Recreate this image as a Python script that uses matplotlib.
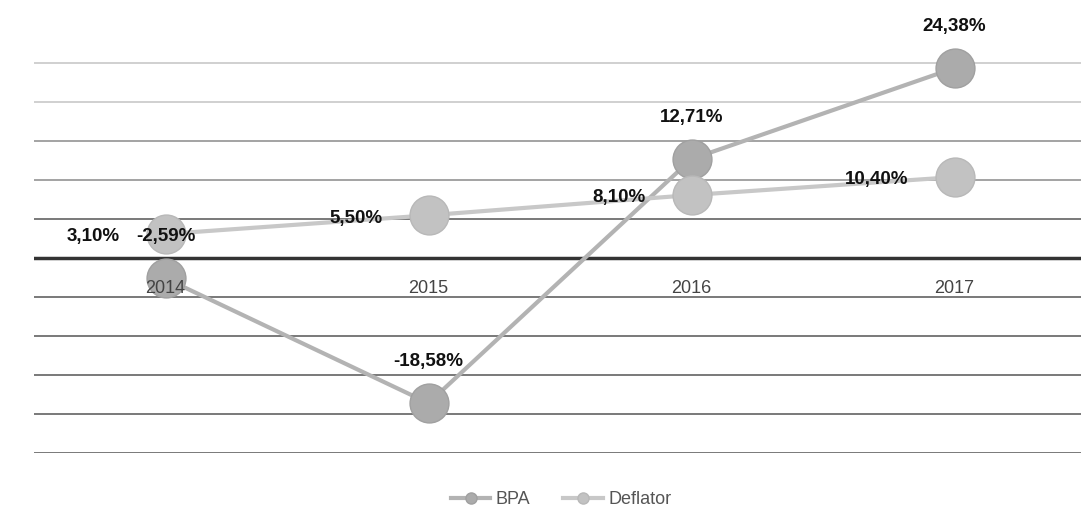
import matplotlib.pyplot as plt
import numpy as np
from matplotlib.lines import Line2D

plt.rcParams['font.family'] = ['Liberation Sans', 'DejaVu Sans']

years = ["2014", "2015", "2016", "2017"]
bpa = [-2.59, -18.58, 12.71, 24.38]
deflator = [3.10, 5.50, 8.10, 10.40]

def pct(v):
    return ("%.2f%%" % v).replace(".", ",")

fig = plt.figure(figsize=(10.81, 5.15), dpi=100)
ax = fig.add_axes([34 / 1081, 0.12, 1052 / 1081, 0.833])

x = np.arange(len(years))

# gridlines, the upper ones came out faint in the scan
for v in np.arange(-25, 26, 5):
    if v == 0:
        continue
    col = '#c4c4c4' if v >= 20 else ('#8a8a8a' if v >= 10 else '#555555')
    ax.axhline(v, color=col, lw=1.1, zorder=1)
ax.axhline(0, color='#333333', lw=2.5, zorder=1)

ax.plot(x, bpa, color='#b3b3b3', lw=3, marker='o', ms=28,
        mfc='#ababab', mec='#a0a0a0', zorder=3)
ax.plot(x, deflator, color='#c8c8c8', lw=3, marker='o', ms=28,
        mfc='#c2c2c2', mec='#b8b8b8', zorder=3)

for i, v in enumerate(bpa):
    ax.annotate(pct(v), (x[i], v), xytext=(0, 30), textcoords='offset points',
                ha='center', va='center', fontsize=13.5, fontweight='bold',
                color='#111111', zorder=5)
for i, v in enumerate(deflator):
    ax.annotate(pct(v), (x[i], v), xytext=(-33, -2), textcoords='offset points',
                ha='right', va='center', fontsize=13.5, fontweight='bold',
                color='#111111', zorder=5)

# category labels sit just under the zero line, on top of the markers
for i, yr in enumerate(years):
    ax.annotate(yr, (x[i], 0), xytext=(0, -22), textcoords='offset points',
                ha='center', va='center', fontsize=13, color='#444444', zorder=5)

ax.set_xlim(-0.5, 3.5)
ax.set_ylim(-25, 30)
ax.set_xticks([])
ax.set_yticks([])
for s in ['top', 'right', 'left', 'bottom']:
    ax.spines[s].set_visible(False)

handles = [
    Line2D([], [], color='#b3b3b3', lw=3, marker='o', ms=8, mfc='#ababab', mec='#a0a0a0'),
    Line2D([], [], color='#c8c8c8', lw=3, marker='o', ms=8, mfc='#c2c2c2', mec='#b8b8b8'),
]
fig.legend(handles, ["BPA", "Deflator"], loc='center', ncol=2,
           bbox_to_anchor=(561 / 1081, 1 - 500 / 515), frameon=False,
           fontsize=13, labelcolor='#555555', handlelength=2.2,
           handletextpad=0.3, columnspacing=1.8)

fig.savefig("out.png", dpi=100)
